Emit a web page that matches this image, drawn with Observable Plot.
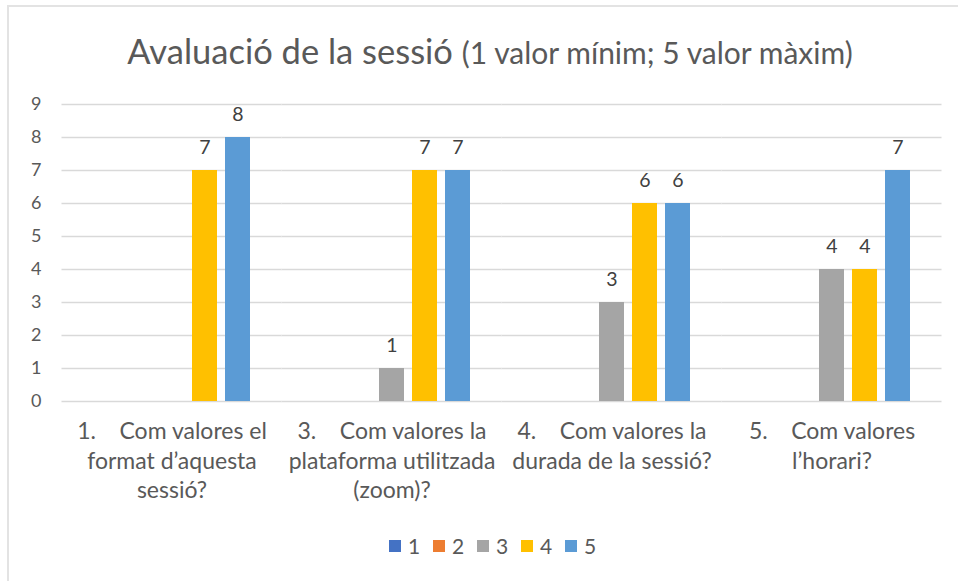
<!DOCTYPE html>
<html>
<head>
<meta charset="utf-8">
<script src="https://cdn.jsdelivr.net/npm/d3@7"></script>
<script src="https://cdn.jsdelivr.net/npm/@observablehq/plot@0.6"></script>
<style>
  html, body { margin: 0; padding: 0; background: #fff; overflow: hidden; width: 958px; height: 581px; }
  body { font-family: Lato, "Open Sans", sans-serif; color: #595959; position: relative; }
  #frame { position: absolute; left: 7px; top: 5px; width: 980px; height: 600px; border: 2px solid #e3e3e3; box-sizing: border-box; }
  #title { position: absolute; left: 0; top: 31px; width: 980px; text-align: center; white-space: nowrap; line-height: 40px; }
  #title .main { font-size: 34.5px; }
  #title .sub { font-size: 30px; }
  #chart { position: absolute; left: 0; top: 80px; }
  #legend { position: absolute; left: 389px; top: 534px; height: 24px; display: flex; align-items: center; font-size: 21px; line-height: 24px; }
  #legend .item { display: flex; align-items: center; width: 44px; }
  #legend .sw { width: 12px; height: 12px; margin-right: 7px; }
</style>
</head>
<body>
<div id="frame"></div>
<div id="title"><span class="main">Avaluació de la sessió </span><span class="sub">(1 valor mínim; 5 valor màxim)</span></div>
<div id="chart"></div>
<div id="legend"></div>
<script>
const categories = [
  "1. Com valores el format d’aquesta sessió?",
  "3. Com valores la plataforma utilitzada (zoom)?",
  "4. Com valores la durada de la sessió?",
  "5. Com valores l’horari?"
];
const tickLabels = [
  "1.    Com valores el\nformat d’aquesta\nsessió?",
  "3.    Com valores la\nplataforma utilitzada\n(zoom)?",
  "4.    Com valores la\ndurada de la sessió?",
  "5.    Com valores\nl’horari?"
];
const seriesNames = ["1", "2", "3", "4", "5"];
const values1 = [0, 0, 0, 0];
const values2 = [0, 0, 0, 0];
const values3 = [0, 1, 3, 4];
const values4 = [7, 7, 6, 4];
const values5 = [8, 7, 6, 7];
const colors = ["#4472C4", "#ED7D31", "#A5A5A5", "#FFC000", "#5B9BD5"];
const yTicks = [0, 1, 2, 3, 4, 5, 6, 7, 8, 9];

const seriesValues = [values1, values2, values3, values4, values5];
const data = [];
categories.forEach((c, i) => {
  seriesNames.forEach((s, j) => {
    data.push({category: c, series: s, value: seriesValues[j][i]});
  });
});
const labelOf = new Map(categories.map((c, i) => [c, tickLabels[i].replace(/ {2,}/g, m => "\u00a0".repeat(m.length))]));

const chart = Plot.plot({
  width: 958,
  height: 440,
  marginLeft: 60,
  marginRight: 15,
  marginTop: 24,
  marginBottom: 39 + 80,
  style: {fontFamily: "Lato, 'Open Sans', sans-serif", color: "#595959", background: "transparent"},
  fx: {domain: categories, paddingInner: 51 / 220.75, paddingOuter: 25.5 / 220.75, label: null},
  x: {domain: seriesNames, paddingInner: 0.25, paddingOuter: 0.125, axis: null},
  y: {domain: [0, 9], label: null},
  color: {domain: seriesNames, range: colors},
  marks: [
    Plot.ruleY(yTicks, {stroke: "#d9d9d9", strokeWidth: 1.6, insetLeft: -25.5, insetRight: -25.5}),
    Plot.barY(data, {fx: "category", x: "series", y: "value", fill: "series"}),
    Plot.text(data.filter(d => d.value > 0), {fx: "category", x: "series", y: "value", text: d => String(d.value), dy: -23, fontSize: 19.5, fill: "#404040"}),
    Plot.axisY({ticks: yTicks, tickSize: 0, tickPadding: 46, fontSize: 18, fill: "#595959", label: null}),
    Plot.axisFx({anchor: "bottom", tickSize: 0, tickPadding: 17, fontSize: 23, lineHeight: 1.28, fill: "#595959", label: null, tickFormat: c => labelOf.get(c)})
  ]
});
document.getElementById("chart").appendChild(chart);

const legend = document.getElementById("legend");
seriesNames.forEach((s, i) => {
  const item = document.createElement("div");
  item.className = "item";
  const sw = document.createElement("span");
  sw.className = "sw";
  sw.style.background = colors[i];
  const lab = document.createElement("span");
  lab.textContent = s;
  item.appendChild(sw);
  item.appendChild(lab);
  legend.appendChild(item);
});
</script>
</body>
</html>
